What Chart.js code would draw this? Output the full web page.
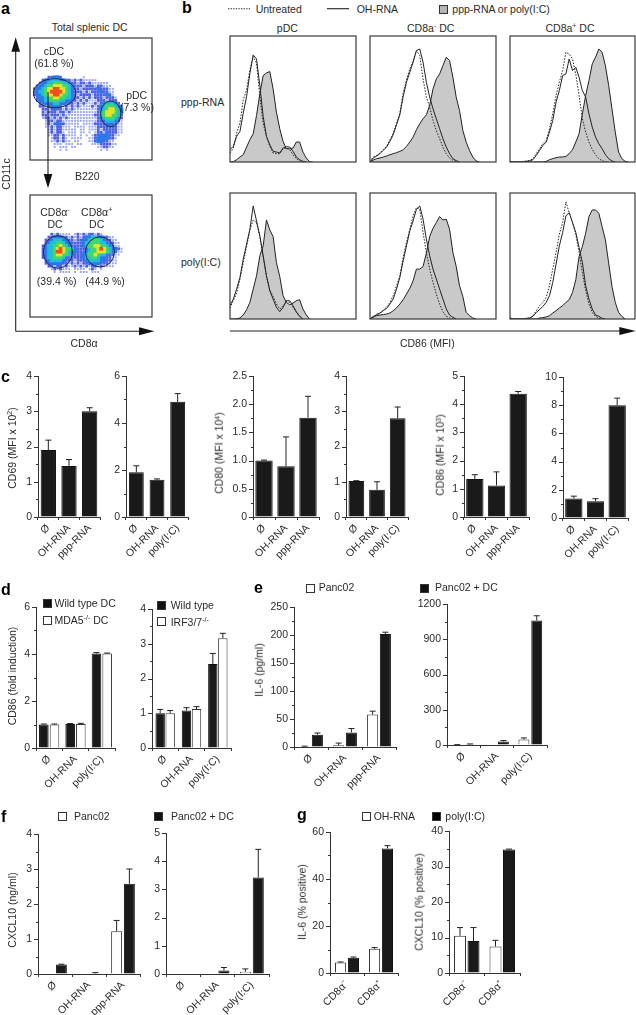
<!DOCTYPE html>
<html>
<head>
<meta charset="utf-8">
<title>DC activation figure</title>
<script src="https://cdn.jsdelivr.net/npm/chart.js@4"></script>
<style>
  html, body { margin: 0; padding: 0; background: #fff; }
  #page { position: relative; width: 636px; height: 1015px; overflow: hidden; background: #fff; }
  #page canvas { position: absolute; }
  .t { position: absolute; font: 10.5px "Liberation Sans", Arial, sans-serif; color: #2a2a2a; white-space: nowrap; line-height: 1; }
  .t sup { font-size: 7px; line-height: 0; vertical-align: 3.5px; }
  .letter { font-weight: bold; font-size: 16px; color: #000; }
  .sw { position: absolute; box-sizing: border-box; border: 1px solid #333; }
  #arrows { position: absolute; left: 0; top: 0; }
</style>
</head>
<body>
<div id="page"></div>
<script>
// ---- panel a, density, one char per 3px cell (0-7 = level)
const cdcRows = [
  '', '', '', '', '', '', '', '', '', '', '', '', '',
  '......22332.......1',
  '....2334443322121211111',
  '...233445554432212212111111',
  '..23345566655432221222122111',
  '.2334566776654322122222322211',
  '.2344567777654322212122232211',
  '.2334566776554321222212222321',
  '..2334556655443221212122212221',
  '..2334455544332212121112221222',
  '...2233344332221212111212344432',
  '...22123332121212111121234555432',
  '....2212322121211111111234566543',
  '....2122212212111111111245666543',
  '....2212221211111111112245665542',
  '....1221212121111111111234555432',
  '.....122122111111111111223444321',
  '.....121232211111.11112222333211',
  '.....112122111.1111.111222222211',
  '......1212211111.11.111212222211',
  '......121221.111.11.1.1221322211',
  '......1122121111.1.1.1223332211',
  '.......122121.1111..1123333221',
  '.......1121211.11...112332211',
  '........111.111.11...111222211',
  '........1.111.11.......112211',
  '..........1.1...........1.1'
];
const cd8Rows = [
  '', '', '', '', '', '', '', '', '', '', '', '', '',
  '.......2121111.1212122121',
  '......22333221212123344332211',
  '.....2234443322122334555432211',
  '.....23445543322223445554432211',
  '....234455654322223455665543211',
  '....2344567655432223455676543321',
  '....2344577654332223455666543211',
  '....234456655432223455654432211',
  '....23445554322222344554332211',
  '.....2344443222122234444332211',
  '.....2233332212121223333222111',
  '......22122121121212122121111',
  '.......1212111.1111.121.1',
  '........1.1111.1.111.111'
];
const densityColors = ['', '#9aa6f0', '#4d60e2', '#2a78ea', '#22bcd8', '#3fd86a', '#e6e02e', '#f0501e'];
// gates: centre column, centre row, radius columns, radius rows
const cdcGates = [[8.5, 19, 7.3, 5], [27.8, 26.1, 3.5, 4.4]];
const cd8Gates = [[9.6, 19.6, 5, 5.6], [24.1, 19.6, 5, 5.2]];

// ---- panel b, histogram counts per channel
const histChannels = [0,10,20,30,40,50,60,70,80,90,100,110,120,130,140,150,160,170,180,190,200,210,220,230,240,250,260,270,280,290,300,310,320,330,340,350,360,370,378];

const pppPdcUntreated = [27,42,87,117,187,217,277,317,297,197,117,77,47,27,25,25,40,42,37,22,10,3,0];
const pppPdcOh = [37,47,77,92,147,197,267,322,310,230,137,77,52,32,30,27,42,46,45,32,15,7,2,0];
const pppPdcStim = [0,1,7,15,22,45,67,85,140,205,260,268,272,220,150,100,62,40,40,42,60,60,30,12,1,0];

const pppNegUntreated = [0,15,20,27,37,47,67,87,117,147,207,247,280,305,335,320,250,195,165,125,95,70,45,25,12,5,2,0];
const pppNegOh = [0,12,18,25,35,45,62,82,112,142,197,240,270,300,335,340,300,240,195,160,130,100,70,45,25,10,4,0];
const pppNegStim = [0,6,10,12,15,18,22,25,28,32,37,47,60,75,97,115,130,142,170,220,250,265,290,315,305,255,195,155,95,60,35,15,3,0];

const pppPosUntreated = [2,0,0,0,2,3,5,10,25,40,55,65,100,145,200,240,275,330,325,310,265,200,130,90,60,38,22,10,4,1,0];
const pppPosOh = [2,0,0,0,0,2,3,7,20,35,50,60,90,125,180,215,260,265,310,275,285,255,215,195,145,105,75,55,40,22,10,3,0];
const pppPosStim = [0,0,0,0,0,0,0,0,0,0,0,2,7,10,13,15,15,17,25,37,60,85,145,200,245,295,315,340,330,290,230,160,90,30,10,2,0];

const polyPdcUntreated = [33,55,78,120,170,218,268,298,290,248,188,128,88,68,45,30,40,52,50,35,20,8,0];
const polyPdcOh = [40,60,90,125,180,225,270,340,295,250,190,130,85,60,35,22,35,55,55,40,22,8,0];
const polyPdcStim = [0,0,1,3,12,28,50,90,130,190,220,298,268,248,170,128,70,50,43,48,55,58,30,12,0];

const polyNegUntreated = [0,5,12,17,27,35,50,70,100,130,185,230,270,310,335,330,260,200,150,110,75,45,22,8,3,0];
const polyNegOh = [0,6,14,18,25,32,45,60,90,125,175,220,265,295,330,340,300,240,190,150,120,90,60,30,12,5,0];
const polyNegStim = [0,8,10,12,13,15,18,25,33,45,58,75,92,115,150,150,158,198,248,273,290,308,298,300,270,200,158,100,68,20,10,3,0];

const polyPosUntreated = [3,0,0,0,0,2,3,10,25,40,50,65,100,150,200,255,290,352,320,290,255,200,140,85,45,20,8,2,0];
const polyPosOh = [3,0,0,0,0,2,3,8,20,28,38,50,70,110,165,220,260,310,320,290,260,215,170,100,60,30,12,8,2,0];
const polyPosStim = [0,0,0,0,0,0,0,0,0,3,4,6,10,18,25,33,40,50,58,80,118,188,218,258,308,328,328,318,278,238,168,98,50,20,8,0];

// ---- bar panels: categories
const pppCats = ['Ø', 'OH-RNA', 'ppp-RNA'];
const polyCats = ['Ø', 'OH-RNA', 'poly(I:C)'];
const cd8Cats = ['CD8α⁻', 'CD8α⁺'];

// panel c
const c1Values = [1.9, 1.45, 3.0];    const c1Err = [2.18, 1.63, 3.1];    const c1Ticks = ['0','1','2','3','4'];
const c2Values = [1.9, 1.58, 4.9];    const c2Err = [2.18, 1.62, 5.25];   const c2Ticks = ['0','2','4','6'];
const c3Values = [1.0, 0.9, 1.76];    const c3Err = [1.01, 1.42, 2.14];   const c3Ticks = ['0','0.5','1.0','1.5','2.0','2.5'];
const c4Values = [1.02, 0.77, 2.8];   const c4Err = [1.03, 1.0, 3.12];    const c4Ticks = ['0','1','2','3','4'];
const c5Values = [1.35, 1.12, 4.37];  const c5Err = [1.5, 1.6, 4.45];     const c5Ticks = ['0','1','2','3','4','5'];
const c6Values = [1.38, 1.18, 8.0];   const c6Err = [1.55, 1.37, 8.5];    const c6Ticks = ['0','2','4','6','8','10'];

// panel d
const d1Wild = [1.0, 1.02, 4.02];     const d1WildErr = [1.02, 1.04, 4.06];
const d1Mda5 = [1.0, 1.02, 4.02];     const d1Mda5Err = [1.02, 1.05, 4.04];
const d1Ticks = ['0','2','4','6'];
const d2Wild = [1.0, 1.08, 2.42];     const d2WildErr = [1.11, 1.16, 2.72];
const d2Irf = [1.0, 1.12, 3.16];      const d2IrfErr = [1.08, 1.19, 3.3];
const d2Ticks = ['0','1','2','3','4'];

// panel e
const e1Panc = [1, 3, 58];            const e1PancErr = [1.5, 7, 64];
const e1PancDc = [22, 26, 202];       const e1PancDcErr = [25, 33, 205];
const e1Ticks = ['0','50','100','150','200','250'];
const e2Panc = [2, 0, 47];            const e2PancErr = [3, 0, 60];
const e2PancDc = [6, 30, 1060];       const e2PancDcErr = [9, 38, 1100];
const e2Ticks = ['0','300','600','900','1200'];

// panel f
const f1Panc = [0, 0, 1.22];          const f1PancErr = [0, 0, 1.53];
const f1PancDc = [0.27, 0.02, 2.58];  const f1PancDcErr = [0.28, 0.04, 3.0];
const f1Ticks = ['0','1','2','3','4'];
const f2Panc = [0, 0, 0.08];          const f2PancErr = [0, 0, 0.18];
const f2PancDc = [0, 0.12, 3.42];     const f2PancDcErr = [0, 0.23, 4.42];
const f2Ticks = ['0','1','2','3','4','5'];

// panel g
const g1Oh = [4.5, 10.3];             const g1OhErr = [4.7, 10.8];
const g1Poly = [6.5, 53];             const g1PolyErr = [6.8, 54.2];
const g1Ticks = ['0','20','40','60'];
const g2Oh = [10.5, 7.5];             const g2OhErr = [12.8, 9.2];
const g2Poly = [9, 34.8];             const g2PolyErr = [12.8, 34.9];
const g2Ticks = ['0','10','20','30','40'];

// ---- helpers
Chart.defaults.font.family = '"Liberation Sans", Arial, sans-serif';
Chart.defaults.font.size = 10.5;
Chart.defaults.color = '#2a2a2a';
Chart.defaults.animation = false;

const page = document.getElementById('page');
const AXIS = '#333';

function newCanvas(left, top, width, height) {
    const cv = document.createElement('canvas');
    cv.width = width;
    cv.height = height;
    cv.style.left = left + 'px';
    cv.style.top = top + 'px';
    page.appendChild(cv);
    return cv.getContext('2d');
}

function text(html, x, y, opts = {}) {
    const el = document.createElement('div');
    el.className = 't' + (opts.letter ? ' letter' : '');
    el.innerHTML = html;
    el.style.left = x + 'px';
    el.style.top = y + 'px';
    if (opts.rot) el.style.transform = 'translate(-50%,-50%) rotate(-90deg)';
    else if (opts.left) el.style.transform = 'translate(0,-50%)';
    else el.style.transform = 'translate(-50%,-50%)';
    page.appendChild(el);
}

function swatch(x, y, w, h, color) {
    const el = document.createElement('div');
    el.className = 'sw';
    el.style.cssText = `left:${x}px;top:${y}px;width:${w}px;height:${h}px;background:${color}`;
    page.appendChild(el);
}

const framePlugin = {
    id: 'frame',
    afterDraw(chart) {
        const a = chart.chartArea, ctx = chart.ctx;
        ctx.save();
        ctx.strokeStyle = '#3a3a3a';
        ctx.lineWidth = 1.2;
        ctx.strokeRect(a.left, a.top, a.right - a.left, a.bottom - a.top);
        ctx.restore();
    }
};

// error whiskers (upward only) and the y ticks, long for labelled ones
const barExtras = {
    id: 'barExtras',
    afterDatasetsDraw(chart) {
        const ctx = chart.ctx, y = chart.scales.y, area = chart.chartArea;
        ctx.save();
        ctx.strokeStyle = '#222';
        ctx.lineWidth = 1;
        chart.data.datasets.forEach((ds, i) => {
            chart.getDatasetMeta(i).data.forEach((bar, j) => {
                const top = ds.errTop[j];
                if (!(top > ds.data[j])) return;
                const py = y.getPixelForValue(top);
                ctx.beginPath();
                ctx.moveTo(bar.x, bar.y);
                ctx.lineTo(bar.x, py);
                ctx.moveTo(bar.x - 3, py);
                ctx.lineTo(bar.x + 3, py);
                ctx.stroke();
            });
        });
        ctx.strokeStyle = AXIS;
        y.ticks.forEach(t => {
            const py = Math.round(y.getPixelForValue(t.value)) + 0.5;
            const len = t.label ? 4 : 2;
            ctx.beginPath();
            ctx.moveTo(area.left - len, py);
            ctx.lineTo(area.left, py);
            ctx.stroke();
        });
        ctx.restore();
    }
};

function barPanel(box, cats, series, yMax, minorStep, tickLabels, catPct, barPct) {
    const [x0, y0, x1, y1] = box;
    const mL = 36, mT = 8, mR = 8, mB = 62;
    const ctx = newCanvas(x0 - mL, y0 - mT, mL + (x1 - x0) + mR, mT + (y1 - y0) + mB);
    return new Chart(ctx, {
        type: 'bar',
        data: {
            labels: cats,
            datasets: series.map(s => ({
                data: s.values,
                errTop: s.err,
                backgroundColor: s.white ? '#fff' : '#1a1a1a',
                borderColor: s.white ? '#333' : '#111',
                borderWidth: 1,
                barPercentage: barPct,
                categoryPercentage: catPct
            }))
        },
        options: {
            responsive: false,
            layout: { padding: { left: 0, top: mT, right: mR, bottom: 0 } },
            plugins: { legend: { display: false }, tooltip: { enabled: false } },
            scales: {
                x: {
                    border: { color: AXIS },
                    grid: { drawOnChartArea: false, color: AXIS, tickLength: 3, offset: true },
                    ticks: { autoSkip: false, minRotation: 45, maxRotation: 45, padding: 2 },
                    afterFit(s) { s.height = mB; s.paddingLeft = 0; s.paddingRight = 0; }
                },
                y: {
                    min: 0,
                    max: yMax,
                    border: { color: AXIS },
                    grid: { drawOnChartArea: false, drawTicks: false },
                    ticks: {
                        stepSize: minorStep,
                        autoSkip: false,
                        padding: 6,
                        callback: v => tickLabels.find(l => Math.abs(parseFloat(l) - v) < 1e-6) ?? ''
                    },
                    afterFit(s) { s.width = mL; s.paddingTop = 0; s.paddingBottom = 0; }
                }
            }
        },
        plugins: [barExtras]
    });
}

function histPanel(box, untreated, oh, stim) {
    const [x0, y0, x1, y1] = box;
    const pad = 2;
    const ctx = newCanvas(x0 - pad, y0 - pad, x1 - x0 + 2 * pad, y1 - y0 + 2 * pad);
    const line = { pointRadius: 0, tension: 0, fill: false };
    return new Chart(ctx, {
        type: 'line',
        data: {
            labels: histChannels,
            datasets: [
                { ...line, data: oh, borderColor: '#222', borderWidth: 1 },
                { ...line, data: untreated, borderColor: '#222', borderWidth: 1, borderDash: [1.5, 1.5] },
                { ...line, data: stim, borderColor: '#222', borderWidth: 1, backgroundColor: '#c9c9c9', fill: 'origin' }
            ]
        },
        options: {
            responsive: false,
            layout: { padding: pad },
            plugins: { legend: { display: false }, tooltip: { enabled: false } },
            scales: {
                x: { display: false },
                y: { display: false, min: 0, max: 379 }
            }
        },
        plugins: [framePlugin]
    });
}

function densityPanel(box, rows, gates) {
    const [x0, y0, x1, y1] = box;
    const pad = 2;
    const ctx = newCanvas(x0 - pad, y0 - pad, x1 - x0 + 2 * pad, y1 - y0 + 2 * pad);
    const datasets = [];
    for (let level = 1; level < densityColors.length; level++) {
        const pts = [];
        rows.forEach((row, r) => {
            [...row].forEach((ch, c) => {
                if (Number(ch) === level) pts.push({ x: c + 0.5, y: r + 0.5 });
            });
        });
        // higher levels first in the list so they paint on top, sparse ones as small dots
        datasets.unshift({
            data: pts,
            pointStyle: 'rect',
            pointRadius: level === 1 ? 1.4 : level === 2 ? 2 : 2.6,
            pointBorderWidth: 0,
            backgroundColor: densityColors[level]
        });
    }
    const gatePlugin = {
        id: 'gates',
        beforeDatasetsDraw(chart) {
            chart.ctx.filter = 'blur(0.7px)';
        },
        afterDatasetsDraw(chart) {
            const { x, y } = chart.scales, c = chart.ctx;
            c.filter = 'none';
            c.save();
            c.strokeStyle = '#1c2440';
            c.lineWidth = 1;
            gates.forEach(g => {
                const cx = x.getPixelForValue(g[0]), cy = y.getPixelForValue(g[1]);
                const rx = Math.abs(x.getPixelForValue(g[0] + g[2]) - cx);
                const ry = Math.abs(y.getPixelForValue(g[1] + g[3]) - cy);
                c.beginPath();
                c.ellipse(cx, cy, rx, ry, 0, 0, Math.PI * 2);
                c.stroke();
            });
            c.restore();
        }
    };
    return new Chart(ctx, {
        type: 'scatter',
        data: { datasets },
        options: {
            responsive: false,
            layout: { padding: pad },
            plugins: { legend: { display: false }, tooltip: { enabled: false } },
            scales: {
                x: { display: false, min: 0, max: 42 },
                y: { display: false, min: 0, max: 42, reverse: true }
            }
        },
        plugins: [gatePlugin, framePlugin]
    });
}

// ---- panel a
densityPanel([28, 36, 154, 162], cdcRows, cdcGates);
densityPanel([28, 193, 154, 319], cd8Rows, cd8Gates);

// ---- panel b
histPanel([230, 36, 356, 162], pppPdcUntreated, pppPdcOh, pppPdcStim);
histPanel([370, 36, 496, 162], pppNegUntreated, pppNegOh, pppNegStim);
histPanel([510, 36, 635, 162], pppPosUntreated, pppPosOh, pppPosStim);
histPanel([230, 193, 356, 319], polyPdcUntreated, polyPdcOh, polyPdcStim);
histPanel([370, 193, 496, 319], polyNegUntreated, polyNegOh, polyNegStim);
histPanel([510, 193, 635, 319], polyPosUntreated, polyPosOh, polyPosStim);

// ---- panel c
barPanel([38, 376, 100, 517], pppCats, [{ values: c1Values, err: c1Err }], 4, 0.5, c1Ticks, 1, 0.74);
barPanel([126, 376, 188, 517], polyCats, [{ values: c2Values, err: c2Err }], 6, 1, c2Ticks, 1, 0.72);
barPanel([253, 376, 319, 517], pppCats, [{ values: c3Values, err: c3Err }], 2.5, 0.25, c3Ticks, 1, 0.79);
barPanel([346, 376, 408, 517], polyCats, [{ values: c4Values, err: c4Err }], 4, 0.5, c4Ticks, 1, 0.76);
barPanel([464, 376, 529, 517], pppCats, [{ values: c5Values, err: c5Err }], 5, 0.5, c5Ticks, 1, 0.8);
barPanel([563, 377, 628, 518], polyCats, [{ values: c6Values, err: c6Err }], 10, 1, c6Ticks, 1, 0.8);

// ---- panel d
barPanel([36, 607, 115, 748], polyCats, [
    { values: d1Wild, err: d1WildErr },
    { values: d1Mda5, err: d1Mda5Err, white: true }
], 6, 1, d1Ticks, 0.81, 0.9);
barPanel([152, 609, 231, 748], polyCats, [
    { values: d2Wild, err: d2WildErr },
    { values: d2Irf, err: d2IrfErr, white: true }
], 4, 0.5, d2Ticks, 0.76, 0.94);

// ---- panel e
barPanel([294, 607, 396, 747], pppCats, [
    { values: e1Panc, err: e1PancErr, white: true },
    { values: e1PancDc, err: e1PancDcErr }
], 250, 25, e1Ticks, 0.75, 0.87);
barPanel([447, 604, 547, 745], polyCats, [
    { values: e2Panc, err: e2PancErr, white: true },
    { values: e2PancDc, err: e2PancDcErr }
], 1200, 150, e2Ticks, 0.77, 0.85);

// ---- panel f
barPanel([38, 834, 140, 974], pppCats, [
    { values: f1Panc, err: f1PancErr, white: true },
    { values: f1PancDc, err: f1PancDcErr }
], 4, 0.5, f1Ticks, 0.75, 0.86);
barPanel([166, 833, 269, 974], polyCats, [
    { values: f2Panc, err: f2PancErr, white: true },
    { values: f2PancDc, err: f2PancDcErr }
], 5, 1, f2Ticks, 0.75, 0.86);

// ---- panel g
barPanel([330, 832, 398, 973], cd8Cats, [
    { values: g1Oh, err: g1OhErr, white: true },
    { values: g1Poly, err: g1PolyErr }
], 60, 10, g1Ticks, 0.76, 0.86);
barPanel([449, 831, 520, 973], cd8Cats, [
    { values: g2Oh, err: g2OhErr, white: true },
    { values: g2Poly, err: g2PolyErr }
], 40, 5, g2Ticks, 0.76, 0.89);

// ---- panel letters
text('a', 1, 9, { letter: true, left: true });
text('b', 182, 8, { letter: true, left: true });
text('c', 1, 377, { letter: true, left: true });
text('d', 1, 590, { letter: true, left: true });
text('e', 254, 588, { letter: true, left: true });
text('f', 1, 817, { letter: true, left: true });
text('g', 297, 815, { letter: true, left: true });

// ---- panel a text
text('Total splenic DC', 89.7, 26.7);
text('cDC', 54, 50.7);
text('(61.8 %)', 54, 63.3);
text('pDC', 136.7, 94.7);
text('(7.3 %)', 137, 107);
text('B220', 87.3, 175.7);
text('CD11c', 6, 174, { rot: true });
text('CD8α<sup>-</sup>', 55, 212);
text('DC', 55, 224);
text('CD8α<sup>+</sup>', 96.7, 212);
text('DC', 96.7, 224);
text('(39.4 %)', 56.7, 281);
text('(44.9 %)', 105, 281);
text('CD8α', 84, 343);

// ---- panel b text and legend
text('Untreated', 255.7, 9, { left: true });
text('OH-RNA', 356.7, 9, { left: true });
swatch(439, 5, 9, 9, '#b5b5b5');
text('ppp-RNA or poly(I:C)', 452.3, 9, { left: true });
text('pDC', 287.3, 27.7);
text('CD8a<sup>-</sup> DC', 430.7, 27.7);
text('CD8a<sup>+</sup> DC', 570, 27.7);
text('ppp-RNA', 181, 102, { left: true });
text('poly(I:C)', 181, 261.7, { left: true });
text('CD86 (MFI)', 427.3, 343);

// ---- axis titles
text('CD69 (MFI x 10<sup>2</sup>)', 12.3, 447.5, { rot: true });
text('CD80 (MFI x 10<sup>4</sup>)', 219, 452.5, { rot: true });
text('CD86 (MFI x 10<sup>3</sup>)', 440, 454.7, { rot: true });
text('CD86 (fold induction)', 12.3, 676, { rot: true });
text('IL-6 (pg/ml)', 259.3, 670, { rot: true });
text('CXCL10 (ng/ml)', 12.3, 909.5, { rot: true });
text('IL-6 (% positive)', 302.3, 902, { rot: true });
text('CXCL10 (% positive)', 418.7, 901.7, { rot: true });

// ---- bar legends
swatch(43, 599, 9, 9, '#111');
text('Wild type DC', 54.5, 603, { left: true });
swatch(43, 616, 9, 9, '#fff');
text('MDA5<sup>-/-</sup> DC', 54.5, 620, { left: true });
swatch(157, 601, 9, 9, '#111');
text('Wild type', 170.7, 605, { left: true });
swatch(157, 617, 9, 9, '#fff');
text('IRF3/7<sup>-/-</sup>', 170.7, 621.7, { left: true });
swatch(306, 584, 9, 9, '#fff');
text('Panc02', 318.7, 587.3, { left: true });
swatch(420, 584, 9, 9, '#111');
text('Panc02 + DC', 435, 587.3, { left: true });
swatch(58, 812, 9, 9, '#fff');
text('Panc02', 74, 816, { left: true });
swatch(154, 812, 9, 9, '#111');
text('Panc02 + DC', 171, 816, { left: true });
swatch(362, 812, 9, 9, '#fff');
text('OH-RNA', 373.7, 816, { left: true });
swatch(432, 812, 9, 9, '#000');
text('poly(I:C)', 445.3, 816, { left: true });

// ---- arrows and legend line samples
page.insertAdjacentHTML('beforeend', `
<svg id="arrows" width="636" height="1015" xmlns="http://www.w3.org/2000/svg">
  <g stroke="#222" stroke-width="1.1" fill="none">
    <line x1="15.7" y1="331.3" x2="15.7" y2="50"/>
    <line x1="15.7" y1="331.3" x2="141" y2="331.3"/>
    <line x1="48" y1="92" x2="48" y2="176"/>
    <line x1="230" y1="331" x2="621" y2="331"/>
    <line x1="228" y1="8.7" x2="250" y2="8.7" stroke-dasharray="1.3 1.3"/>
    <line x1="327" y1="8.7" x2="349" y2="8.7"/>
  </g>
  <g fill="#111">
    <polygon points="15.7,37.3 11.4,51.7 20,51.7"/>
    <polygon points="154.3,331.3 139,327.3 139,335.3"/>
    <polygon points="48,188.3 43.7,174 52.3,174"/>
    <polygon points="635.7,331 619.3,327 619.3,335"/>
  </g>
</svg>`);
</script>
</body>
</html>
